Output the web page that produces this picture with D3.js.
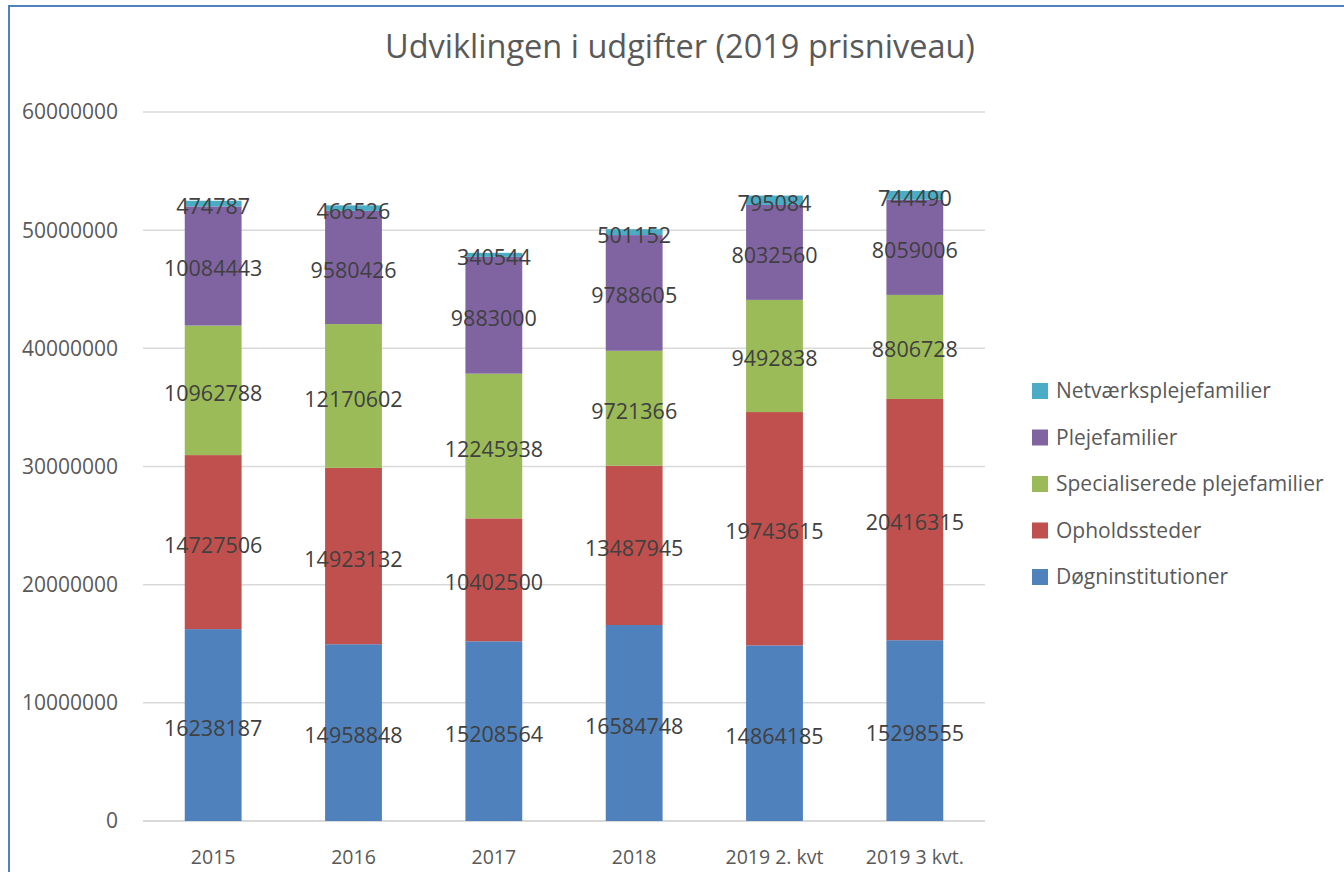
<!DOCTYPE html>
<html>
<head>
<meta charset="utf-8">
<style>
  body { margin: 0; background: #fff; font-family: "Open Sans", sans-serif; }
  svg text { fill: #595959; }
</style>
</head>
<body>
<script src="https://cdn.jsdelivr.net/npm/d3@7"></script>
<script>
const years = ['2015', '2016', '2017', '2018', '2019 2. kvt', '2019 3 kvt.'];
const seriesNames = ['Døgninstitutioner', 'Opholdssteder', 'Specialiserede plejefamilier', 'Plejefamilier', 'Netværksplejefamilier'];
const doegn = [16238187, 14958848, 15208564, 16584748, 14864185, 15298555];
const ophold = [14727506, 14923132, 10402500, 13487945, 19743615, 20416315];
const special = [10962788, 12170602, 12245938, 9721366, 9492838, 8806728];
const pleje = [10084443, 9580426, 9883000, 9788605, 8032560, 8059006];
const netvaerk = [474787, 466526, 340544, 501152, 795084, 744490];
const yTicks = [0, 10000000, 20000000, 30000000, 40000000, 50000000, 60000000];
const colors = ['#4f81bd', '#c0504d', '#9bbb59', '#8064a2', '#4bacc6'];

const width = 1344, height = 872;
const seriesValues = [doegn, ophold, special, pleje, netvaerk];

const rows = years.map((yr, i) => {
    const r = { year: yr };
    seriesNames.forEach((s, j) => { r[s] = seriesValues[j][i]; });
    return r;
});

const svg = d3.select('body').append('svg')
    .attr('width', width)
    .attr('height', height);

// frame
svg.append('path')
    .attr('d', `M9,${height} V6 H${width}`)
    .attr('fill', 'none')
    .attr('stroke', '#4f81bd')
    .attr('stroke-width', 2);

const x = d3.scaleBand()
    .domain(years)
    .range([143, 985])
    .paddingInner(0.595)
    .paddingOuter(0.2975);

const y = d3.scaleLinear()
    .domain([0, 60000000])
    .range([821, 112]);

// gridlines
svg.append('g').selectAll('line')
    .data(yTicks)
    .join('line')
    .attr('x1', 143).attr('x2', 985)
    .attr('y1', d => y(d)).attr('y2', d => y(d))
    .attr('stroke', '#d9d9d9')
    .attr('stroke-width', d => d === 0 ? 2 : 1.5);

// y tick labels
svg.append('g').selectAll('text')
    .data(yTicks)
    .join('text')
    .attr('x', 118)
    .attr('y', d => y(d))
    .attr('dy', '0.35em')
    .attr('text-anchor', 'end')
    .style('font-size', '21px')
    .text(d => d3.format('d')(d));

// x labels
svg.append('g').selectAll('text')
    .data(years)
    .join('text')
    .attr('x', d => x(d) + x.bandwidth() / 2)
    .attr('y', 864)
    .attr('text-anchor', 'middle')
    .style('font-size', '19.5px')
    .text(d => d);

const stack = d3.stack().keys(seriesNames);
const layers = stack(rows);

const layer = svg.append('g').selectAll('g')
    .data(layers)
    .join('g')
    .attr('fill', (d, i) => colors[i]);

layer.selectAll('rect')
    .data(d => d)
    .join('rect')
    .attr('x', d => x(d.data.year))
    .attr('width', x.bandwidth())
    .attr('y', d => y(d[1]))
    .attr('height', d => y(d[0]) - y(d[1]));

// data labels
const labels = svg.append('g');
layers.forEach(l => {
    labels.selectAll(null)
        .data(l)
        .join('text')
        .attr('x', d => x(d.data.year) + x.bandwidth() / 2)
        .attr('y', d => (y(d[0]) + y(d[1])) / 2 + 3)
        .attr('dy', '0.35em')
        .attr('text-anchor', 'middle')
        .style('font-size', '21.5px')
        .style('fill', '#404040')
        .text(d => d[1] - d[0]);
});

// title
svg.append('text')
    .attr('x', 680)
    .attr('y', 58)
    .attr('text-anchor', 'middle')
    .style('font-size', '32.5px')
    .text('Udviklingen i udgifter (2019 prisniveau)');

// legend
const legendItems = seriesNames.slice().reverse();
const legend = svg.append('g').selectAll('g')
    .data(legendItems)
    .join('g')
    .attr('transform', (d, i) => `translate(1032, ${391 + i * 46.5})`);

legend.append('rect')
    .attr('y', -8)
    .attr('width', 16).attr('height', 16)
    .attr('fill', d => colors[seriesNames.indexOf(d)]);

legend.append('text')
    .attr('x', 24)
    .attr('dy', '0.35em')
    .style('font-size', '21px')
    .text(d => d);
</script>
</body>
</html>
